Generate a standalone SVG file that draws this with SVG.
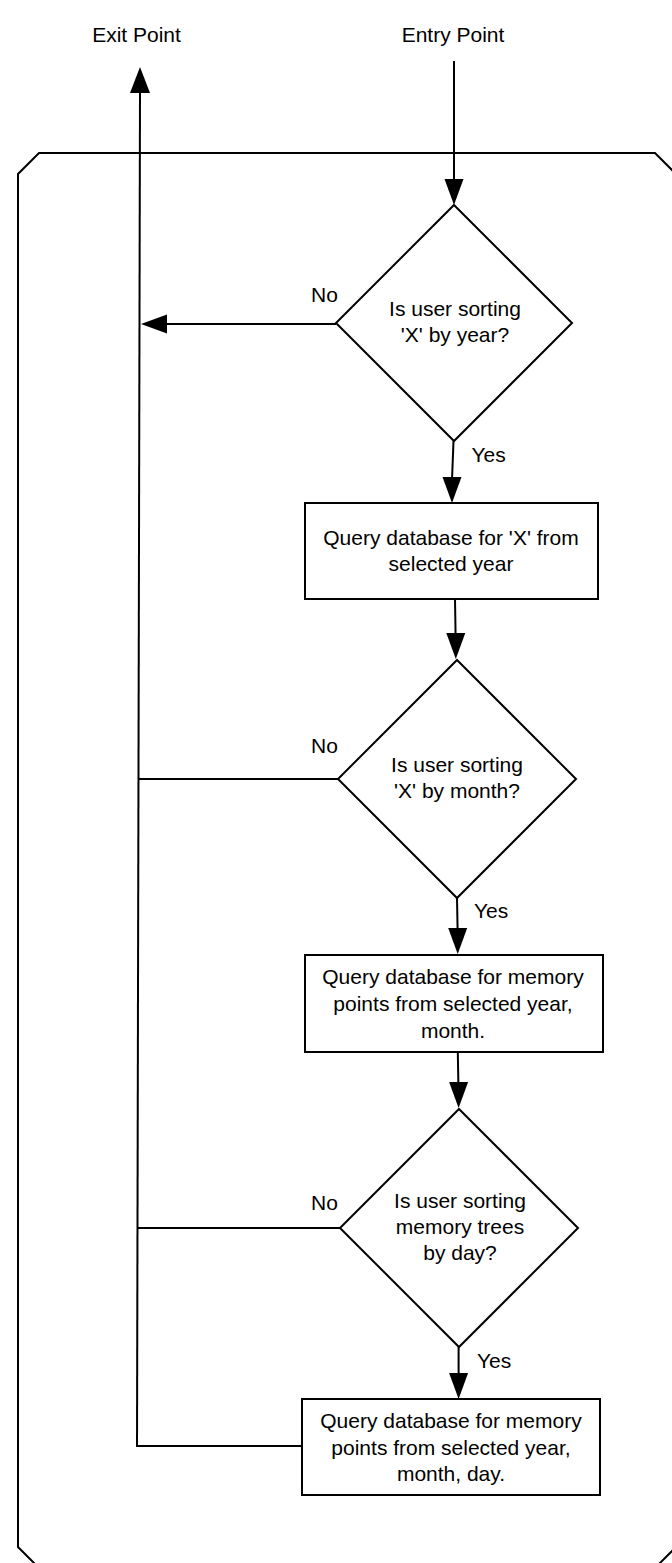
<svg xmlns="http://www.w3.org/2000/svg" width="672" height="1563" viewBox="0 0 672 1563">
<defs>
<style>
.shape{fill:#fff;stroke:#000;stroke-width:2}
.frame{fill:none;stroke:#000;stroke-width:2}
.conn{fill:none;stroke:#000;stroke-width:2}
.head{fill:#000;stroke:none}
text{font-family:"Liberation Sans",Arial,Helvetica,sans-serif;font-size:21px;fill:#000}
.c{text-anchor:middle}
</style>
</defs>
<rect width="672" height="1563" fill="#fff"/>
<g id="frame">
<polygon class="frame" points="39,153 655,153 676,174 676,1547 655,1568 39,1568 18,1547 18,174"/>
</g>
<g id="labels">
<text class="c" x="136.5" y="42">Exit Point</text>
<text class="c" x="453" y="42">Entry Point</text>
</g>
<g id="connectors">
<line class="conn" x1="454" y1="61" x2="454" y2="180"/>
<polygon class="head" points="454,205 444.5,179 463.5,179"/>
<line class="conn" x1="137" y1="1447" x2="140" y2="90"/>
<polygon class="head" points="140,67 130,93 150,93"/>
<line class="conn" x1="336" y1="324" x2="165" y2="324"/>
<polygon class="head" points="141,324 167,314.5 167,333.5"/>
<line class="conn" x1="338" y1="779" x2="139" y2="779"/>
<line class="conn" x1="340" y1="1228" x2="137.5" y2="1228"/>
<line class="conn" x1="302" y1="1446" x2="137" y2="1446"/>
<line class="conn" x1="453.5" y1="441" x2="452" y2="480"/>
<polygon class="head" points="452,503 442.5,477 461.5,477"/>
<line class="conn" x1="455" y1="599" x2="455.6" y2="636"/>
<polygon class="head" points="455.8,659 446.3,633 465.3,633"/>
<line class="conn" x1="457" y1="898" x2="457.6" y2="930"/>
<polygon class="head" points="457.7,954 448.2,928 467.2,928"/>
<line class="conn" x1="457.8" y1="1052" x2="458.4" y2="1085"/>
<polygon class="head" points="458.6,1108 449.1,1082 468.1,1082"/>
<line class="conn" x1="458.6" y1="1347" x2="458.6" y2="1376"/>
<polygon class="head" points="458.6,1399 449.1,1373 468.1,1373"/>
<text x="311" y="302">No</text>
<text x="471.5" y="462">Yes</text>
<text x="311" y="753">No</text>
<text x="474" y="918">Yes</text>
<text x="311" y="1210">No</text>
<text x="477" y="1368">Yes</text>
</g>
<g id="decision1">
<polygon class="shape" points="454,205 572,323 454,441 336,323"/>
<text class="c" x="455" y="316">Is user sorting</text>
<text class="c" x="455" y="342">'X' by year?</text>
</g>
<g id="query1">
<rect class="shape" x="305" y="503" width="293" height="96"/>
<text class="c" x="451" y="544.5">Query database for 'X' from</text>
<text class="c" x="451" y="571">selected year</text>
</g>
<g id="decision2">
<polygon class="shape" points="457,660 576,779 457,898 338,779"/>
<text class="c" x="457" y="772">Is user sorting</text>
<text class="c" x="457" y="798">'X' by month?</text>
</g>
<g id="query2">
<rect class="shape" x="305" y="955" width="298" height="97"/>
<text class="c" x="453" y="984">Query database for memory</text>
<text class="c" x="453" y="1010.5">points from selected year,</text>
<text class="c" x="453" y="1037.5">month.</text>
</g>
<g id="decision3">
<polygon class="shape" points="459,1109 578,1228 459,1347 340,1228"/>
<text class="c" x="460" y="1208">Is user sorting</text>
<text class="c" x="460" y="1234">memory trees</text>
<text class="c" x="460" y="1260">by day?</text>
</g>
<g id="query3">
<rect class="shape" x="302" y="1399" width="298" height="96"/>
<text class="c" x="451" y="1428">Query database for memory</text>
<text class="c" x="451" y="1454.5">points from selected year,</text>
<text class="c" x="451" y="1481">month, day.</text>
</g>
</svg>
